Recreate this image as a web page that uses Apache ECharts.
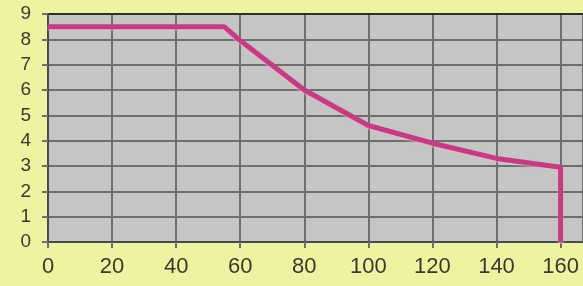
<!DOCTYPE html>
<html>
<head>
<meta charset="utf-8">
<script src="https://cdn.jsdelivr.net/npm/echarts@6/dist/echarts.min.js"></script>
<style>
  html, body { margin: 0; padding: 0; background: #eef3a2; }
  #chart { width: 583px; height: 286px; }
</style>
</head>
<body>
<div id="chart"></div>
<script>
// curve (x, y)
const xValues = [0, 55, 60, 80, 100, 120, 140, 160, 160];
const yValues = [8.5, 8.5, 7.95, 6.0, 4.6, 3.9, 3.3, 2.95, 0];

const chart = echarts.init(document.getElementById("chart"));

const labelColor = "#3a3a2c";
const gridColor = "#6e6e6e";

chart.setOption({
  animation: false,
  backgroundColor: "#eef3a2",
  grid: {
    left: 48,
    top: 14,
    right: 0,
    bottom: 44,
    show: true,
    backgroundColor: "#c5c5c5",
    borderWidth: 0,
  },
  xAxis: {
    type: "value",
    min: 0,
    max: 167,
    interval: 20,
    axisLine: { show: true, lineStyle: { color: "#4a4a4a", width: 2 } },
    axisTick: { show: true, length: 6, lineStyle: { color: gridColor, width: 2 } },
    axisLabel: {
      color: labelColor,
      fontSize: 22,
      fontFamily: "Liberation Sans",
      margin: 14,
      showMaxLabel: false,
    },
    splitLine: { show: true, lineStyle: { color: gridColor, width: 2 } },
  },
  yAxis: {
    type: "value",
    min: 0,
    max: 9,
    interval: 1,
    axisLine: { show: true, lineStyle: { color: "#4a4a4a", width: 2 } },
    axisTick: { show: true, length: 6, lineStyle: { color: gridColor, width: 2 } },
    axisLabel: {
      color: labelColor,
      fontSize: 19,
      fontFamily: "Liberation Sans",
      margin: 17,
    },
    splitLine: { show: true, lineStyle: { color: gridColor, width: 2 } },
  },
  series: [
    {
      type: "line",
      symbol: "none",
      lineStyle: {
        color: "#c23d82",
        width: 5,
        shadowColor: "rgba(255,170,210,0.8)",
        shadowBlur: 2,
        shadowOffsetY: 1,
      },
      data: xValues.map((x, i) => [x, yValues[i]]),
    },
  ],
});

// top border of the plot
chart.setOption({
  graphic: [
    {
      type: "line",
      shape: { x1: 48, y1: 14, x2: 583, y2: 14 },
      style: { stroke: "#2e2e2e", lineWidth: 2 },
    },
  ],
});
</script>
</body>
</html>
